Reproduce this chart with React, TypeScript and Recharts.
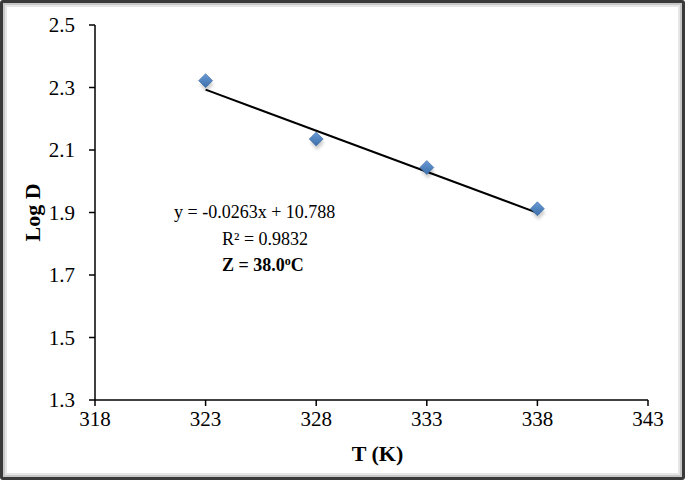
import { ComposedChart, Scatter, Line, XAxis, YAxis } from "recharts";

// measured points (T in K, Log D)
const temps = [323, 328, 333, 338];
const logD = [2.322, 2.135, 2.044, 1.912];

// trendline ends (y = -0.0263x + 10.788)
const trendT = [323, 338];
const trendLogD = [2.293, 1.899];

const xTicks = [318, 323, 328, 333, 338, 343];
const yTicks = [1.3, 1.5, 1.7, 1.9, 2.1, 2.3, 2.5];

const points = temps.map((t, i) => ({ t, d: logD[i] }));
const trend = trendT.map((t, i) => ({ t, d: trendLogD[i] }));

const FONT = "'Liberation Serif', 'Times New Roman', serif";

function Diamond(props: any) {
  const { cx, cy } = props;
  const r = 7;
  const pts = (dx: number, dy: number) =>
    `${cx + dx},${cy + dy - r} ${cx + dx + r},${cy + dy} ${cx + dx},${cy + dy + r} ${cx + dx - r},${cy + dy}`;
  return (
    <g>
      <polygon points={pts(1, 4)} fill="#000" opacity={0.18} filter="url(#blur)" />
      <polygon points={pts(0, 0)} fill="url(#dia)" stroke="#3d6ca3" strokeWidth={0.6} />
    </g>
  );
}

function YLabel(props: any) {
  const { viewBox } = props;
  const cy = viewBox.y + viewBox.height / 2;
  return (
    <text
      x={40}
      y={cy}
      transform={`rotate(-90, 40, ${cy})`}
      textAnchor="middle"
      fontFamily={FONT}
      fontWeight="bold"
      fontSize={22}
      fill="#000"
    >
      Log D
    </text>
  );
}

function XLabel(props: any) {
  const { viewBox } = props;
  const cx = viewBox.x + viewBox.width / 2 + 6;
  return (
    <text
      x={cx}
      y={461}
      textAnchor="middle"
      fontFamily={FONT}
      fontWeight="bold"
      fontSize={22}
      fill="#000"
    >
      T (K)
    </text>
  );
}

export default function App() {
  return (
    <div style={{ position: "fixed", left: 0, top: 0, width: 685, height: 480 }}>
      <div
        style={{
          position: "absolute",
          inset: 0,
          border: "3px solid #3a3a3a",
          borderRadius: 3,
          boxShadow: "inset 0 0 0 2px #c8c8c8, inset 0 0 0 4px #e6e6e6",
          background: "#fff",
          boxSizing: "border-box",
        }}
      />
      <div style={{ position: "absolute", left: 0, top: 0 }}>
        <ComposedChart
          width={685}
          height={480}
          margin={{ top: 25, right: 37, bottom: 0, left: 0 }}
        >
          <defs>
            <linearGradient id="dia" x1="0" y1="0" x2="0" y2="1">
              <stop offset="0%" stopColor="#6b9bd6" />
              <stop offset="100%" stopColor="#3a6eaa" />
            </linearGradient>
            <filter id="blur" x="-50%" y="-50%" width="200%" height="200%">
              <feGaussianBlur stdDeviation="1.8" />
            </filter>
          </defs>
          <XAxis
            type="number"
            dataKey="t"
            domain={[318, 343]}
            ticks={xTicks}
            allowDataOverflow
            stroke="#000"
            strokeWidth={1.5}
            tickSize={6}
            tickMargin={5}
            tick={{ fill: "#000", fontFamily: FONT, fontSize: 21 }}
            height={80}
            label={<XLabel />}
          />
          <YAxis
            type="number"
            dataKey="d"
            domain={[1.3, 2.5]}
            ticks={yTicks}
            allowDataOverflow
            stroke="#000"
            strokeWidth={1.5}
            tickSize={6}
            tickMargin={14}
            width={95}
            tickFormatter={(v: number) => v.toFixed(1)}
            tick={{ fill: "#000", fontFamily: FONT, fontSize: 21 }}
            label={<YLabel />}
          />
          <Line
            data={trend}
            dataKey="d"
            type="linear"
            stroke="#000"
            strokeWidth={2}
            dot={false}
            activeDot={false}
            isAnimationActive={false}
          />
          <Scatter data={points} dataKey="d" shape={<Diamond />} isAnimationActive={false} />
        </ComposedChart>
      </div>
      <div
        style={{
          position: "absolute",
          left: 0,
          top: 199,
          fontFamily: FONT,
          fontSize: 18,
          lineHeight: "27px",
          color: "#000",
          whiteSpace: "nowrap",
        }}
      >
        <div style={{ position: "absolute", left: 174, top: 0 }}>y = -0.0263x + 10.788</div>
        <div style={{ position: "absolute", left: 222, top: 27 }}>R² = 0.9832</div>
        <div style={{ position: "absolute", left: 222, top: 53, fontWeight: "bold" }}>
          Z = 38.0<sup style={{ fontSize: 12, verticalAlign: "6px", lineHeight: 0 }}>o</sup>C
        </div>
      </div>
    </div>
  );
}
